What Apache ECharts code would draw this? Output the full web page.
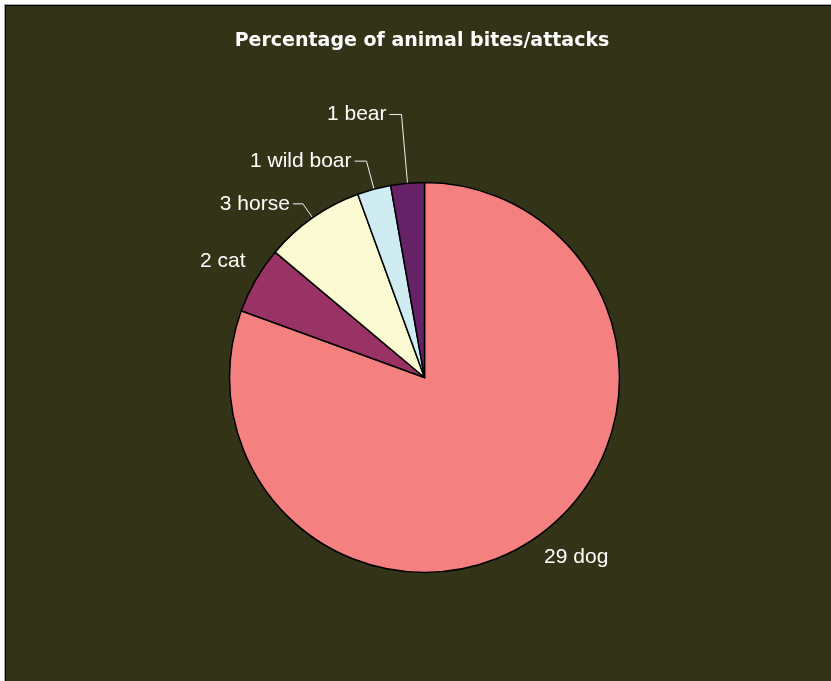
<!DOCTYPE html>
<html>
<head>
<meta charset="utf-8">
<script src="https://cdn.jsdelivr.net/npm/echarts@6/dist/echarts.min.js"></script>
<style>
html,body{margin:0;padding:0;background:#ffffff;}
#chart{width:831px;height:681px;}
</style>
</head>
<body>
<div id="chart"></div>
<script>
// Data
const titleText = 'Percentage of animal bites/attacks';
const categories = ['dog', 'cat', 'horse', 'wild boar', 'bear'];
const counts = [29, 2, 3, 1, 1];

// Styles (kept separate from data)
const sliceColors = ['#F4807F', '#993366', '#FCFAD2', '#CFECF3', '#662266'];
const lineLen = [24, 37, 17, 29, 69];
const lineLen2 = [0, 0, 10, 12, 12];
const lineShow = [false, false, true, true, true];
const labelShift = [[-9, 0], [25, 0], [0, 0], [0, 0], [0, 0]];

const chart = echarts.init(document.getElementById('chart'), null, {renderer: 'canvas'});

const data = categories.map((name, i) => ({
  name: name,
  value: counts[i],
  itemStyle: {color: sliceColors[i]},
  labelLine: {show: lineShow[i], length: lineLen[i], length2: lineLen2[i]}
}));

chart.setOption({
  animation: false,
  backgroundColor: '#ffffff',
  graphic: [
    {type: 'rect', silent: true, z: -10, shape: {x: 4, y: 4, width: 900, height: 800}, style: {fill: '#a8a8a8'}},
    {type: 'rect', silent: true, z: -9, shape: {x: 5, y: 5, width: 900, height: 800}, style: {fill: '#000000'}},
    {type: 'rect', silent: true, z: -8, shape: {x: 6, y: 6, width: 900, height: 800}, style: {fill: '#333317'}}
  ],
  title: {
    text: titleText,
    left: 417,
    top: 27,
    textAlign: 'center',
    textStyle: {
      color: '#ffffff',
      fontFamily: 'DejaVu Sans',
      fontWeight: 'bold',
      fontSize: 19
    }
  },
  series: [{
    type: 'pie',
    center: [424.5, 377.5],
    radius: 195,
    startAngle: 90,
    clockwise: true,
    avoidLabelOverlap: false,
    emphasis: {disabled: true},
    itemStyle: {borderColor: '#000000', borderWidth: 1.5},
    label: {
      show: true,
      position: 'outside',
      formatter: '{c} {b}',
      color: '#ffffff',
      fontFamily: 'Liberation Sans',
      fontSize: 21,
      distanceToLabelLine: 3
    },
    labelLine: {
      lineStyle: {color: '#f0f0f0', width: 1}
    },
    labelLayout: function (params) {
      const s = labelShift[params.dataIndex];
      return {dx: s[0], dy: s[1]};
    },
    data: data
  }]
});
</script>
</body>
</html>
